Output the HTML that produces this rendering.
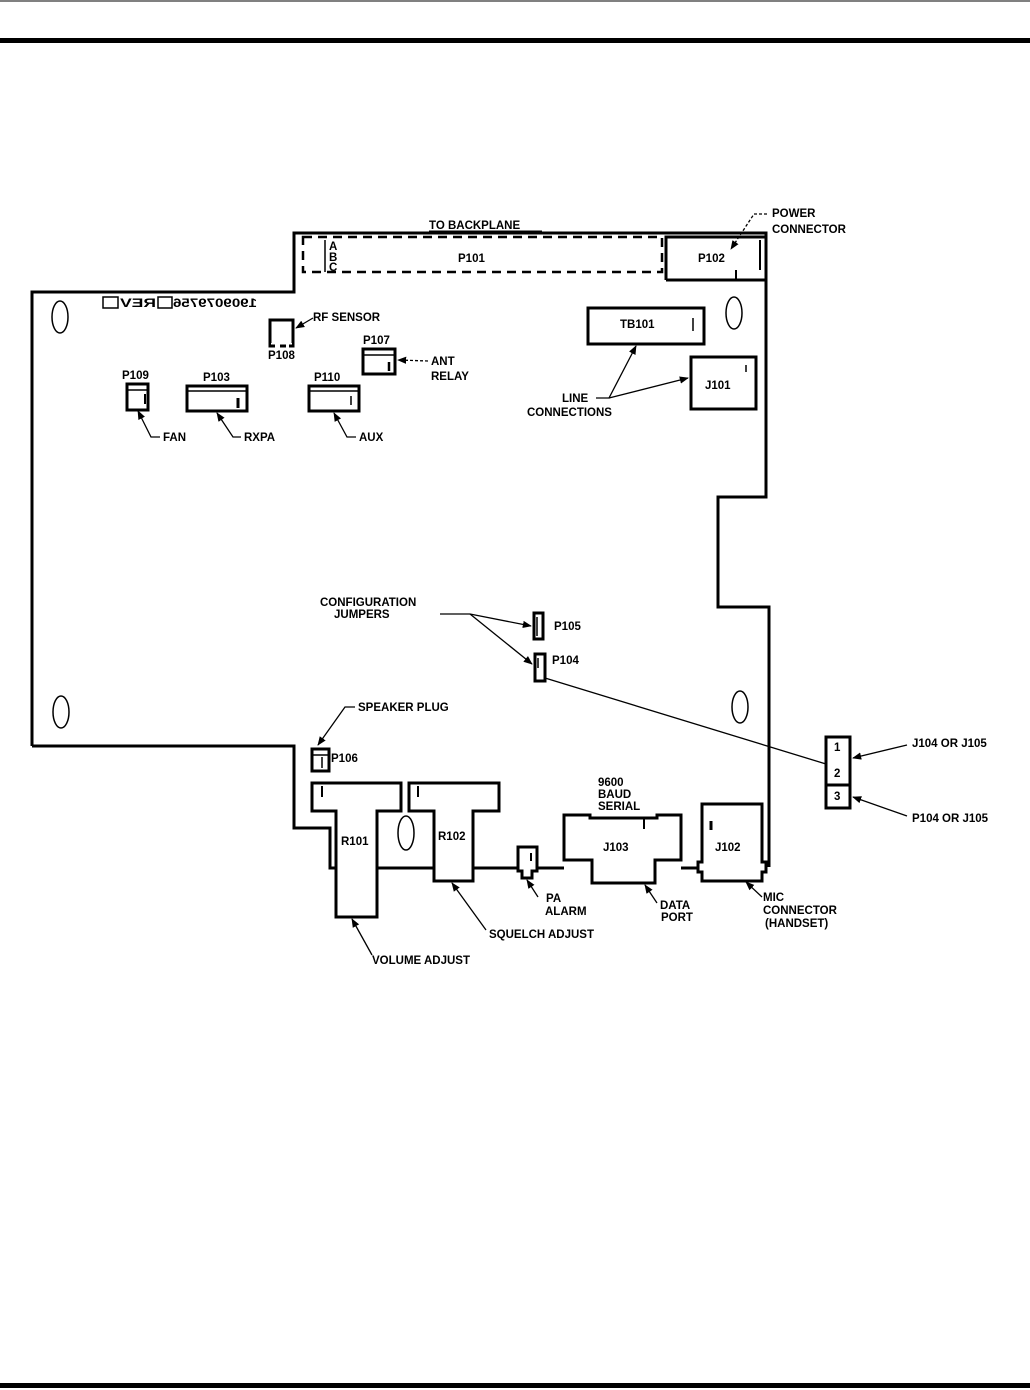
<!DOCTYPE html>
<html><head><meta charset="utf-8"><style>
html,body{margin:0;padding:0;background:#fff;}
svg{display:block;}
text{font-family:"Liberation Sans",sans-serif;font-weight:bold;font-size:11.5px;fill:#000;}
</style></head><body>
<svg width="1030" height="1390" viewBox="0 0 1030 1390" xmlns="http://www.w3.org/2000/svg">
<defs>
<marker id="a" viewBox="0 0 10 10" refX="9" refY="5" markerWidth="7" markerHeight="7" orient="auto"><path d="M0,1 L10,5 L0,9 z" fill="#000"/></marker>
</defs>
<line x1="0" y1="1" x2="1030" y2="1" stroke="#000" stroke-width="1"/>
<rect x="0" y="38" width="1030" height="5" fill="#000"/>
<rect x="0" y="1383" width="1030" height="5" fill="#000"/>

<g fill="none" stroke="#000" stroke-width="3">
<path d="M32,746 V292 H294 V233 H766 V497 H718 V607 H769 V867"/>
<path d="M32,746 H294 V828 H330 V868 H336"/>
<path d="M377,868 H434 M473,868 H518 M537,868 H564 M681,868 H702"/>
<path d="M312,783 H401 V811 H377 V917 H336 V811 H312 Z" fill="#fff"/>
<path d="M409,783 H499 V811 H473 V881 H434 V811 H409 Z" fill="#fff"/>
<path d="M518,847 H537 V871 H532 V878 H522 V871 H518 Z" fill="#fff"/>
<path d="M564,815 H590 V818 H657 V815 H681 V860 H655 V883 H592 V860 H564 Z" fill="#fff"/>
<path d="M702,804 H762 V862 H766 V872 H762 V881 H702 V872 H698 V862 H702 Z" fill="#fff"/>
<rect x="312" y="749" width="17" height="22"/>
<rect x="270" y="320" width="23" height="26"/>
<rect x="363" y="349" width="32" height="25"/>
<rect x="127" y="384" width="21" height="26"/>
<rect x="187" y="386" width="60" height="25"/>
<rect x="309" y="386" width="50" height="25"/>
<path d="M666,280 V237 H766 M666,280 H766"/>
<rect x="588" y="308" width="116" height="36"/>
<rect x="691" y="357" width="65" height="52"/>
<rect x="534" y="613" width="9" height="26"/>
<rect x="535" y="654" width="10" height="27"/>
<rect x="826" y="737" width="24" height="71"/>
<line x1="826" y1="785" x2="850" y2="785"/>
<path d="M303,237 H662 V272 H303 Z" stroke-dasharray="9,6" stroke-width="2.5"/>
</g>
<g stroke="#000" stroke-width="1.5" fill="none">
<line x1="363" y1="355" x2="395" y2="355"/>
<line x1="127" y1="390" x2="148" y2="390"/>
<line x1="187" y1="391" x2="247" y2="391"/>
<line x1="309" y1="391" x2="359" y2="391"/>
<line x1="312" y1="755" x2="329" y2="755"/>
<line x1="145" y1="394" x2="145" y2="404" stroke-width="2"/>
<line x1="238" y1="398" x2="238" y2="408" stroke-width="3"/>
<line x1="351" y1="396" x2="351" y2="405"/>
<line x1="389" y1="362" x2="389" y2="371" stroke-width="2.5"/>
<line x1="693" y1="318" x2="693" y2="331"/>
<line x1="746" y1="365" x2="746" y2="372"/>
<line x1="322" y1="757" x2="322" y2="768"/>
<line x1="322" y1="786" x2="322" y2="797" stroke-width="2"/>
<line x1="418" y1="786" x2="418" y2="797" stroke-width="2"/>
<line x1="531" y1="853" x2="531" y2="861" stroke-width="2"/>
<line x1="644" y1="818" x2="644" y2="829" stroke-width="2"/>
<line x1="711" y1="821" x2="711" y2="830" stroke-width="3"/>
<line x1="736" y1="270" x2="736" y2="280" stroke-width="2"/>
<line x1="760" y1="240" x2="760" y2="270" stroke-width="2"/>
<line x1="537" y1="617" x2="537" y2="636"/>
<line x1="538" y1="658" x2="538" y2="668"/>
<line x1="325" y1="240" x2="325" y2="272"/>
<ellipse cx="60" cy="317" rx="8" ry="16"/>
<ellipse cx="734" cy="313" rx="8" ry="16"/>
<ellipse cx="740" cy="707" rx="8" ry="16"/>
<ellipse cx="61" cy="712" rx="8" ry="16"/>
<ellipse cx="406" cy="833" rx="8" ry="17"/>
<rect x="103" y="297" width="15" height="11"/>
<rect x="158" y="297" width="14" height="11"/>
</g>
<rect x="271" y="343" width="21" height="5" fill="#fff"/>
<path d="M270,346 h5 M280,346 h6 M289,346 h4" stroke="#000" stroke-width="3"/>

<g stroke="#000" stroke-width="1.3" fill="none">
<path d="M313,318 L296,328" marker-end="url(#a)"/>
<path d="M428,361 L398,360" stroke-dasharray="3,2" marker-end="url(#a)"/>
<path d="M160,437 H151 L138,411" marker-end="url(#a)"/>
<path d="M241,437 H233 L217,413" marker-end="url(#a)"/>
<path d="M356,437 H347 L334,413" marker-end="url(#a)"/>
<path d="M767,214 H754 L731,249" stroke-dasharray="3,2" marker-end="url(#a)"/>
<path d="M596,398 H609 L636,346" marker-end="url(#a)"/>
<path d="M609,398 L688,378" marker-end="url(#a)"/>
<path d="M440,614 H470 L531,626" marker-end="url(#a)"/>
<path d="M470,614 L532,664" marker-end="url(#a)"/>
<path d="M545,678 L826,764"/>
<path d="M355,707 H345 L318,745" marker-end="url(#a)"/>
<path d="M907,745 L853,758" marker-end="url(#a)"/>
<path d="M907,816 L853,797" marker-end="url(#a)"/>
<path d="M372,955 L352,919" marker-end="url(#a)"/>
<path d="M486,930 L452,883" marker-end="url(#a)"/>
<path d="M538,897 L527,880" marker-end="url(#a)"/>
<path d="M657,903 L645,885" marker-end="url(#a)"/>
<path d="M762,897 L746,882" marker-end="url(#a)"/>
</g>

<text x="429" y="229">TO BACKPLANE</text>
<line x1="429" y1="231" x2="542" y2="231" stroke="#000" stroke-width="1"/>
<text x="329" y="250" font-size="9">A</text>
<text x="329" y="261" font-size="9">B</text>
<text x="329" y="271" font-size="9">C</text>
<text x="458" y="262">P101</text>
<text x="698" y="262">P102</text>
<text x="772" y="217">POWER</text>
<text x="772" y="233">CONNECTOR</text>
<text x="620" y="328">TB101</text>
<text x="705" y="389">J101</text>
<text x="562" y="402">LINE</text>
<text x="527" y="416">CONNECTIONS</text>
<text transform="translate(257,307) scale(-1,1)" font-size="12" font-weight="normal" textLength="84" lengthAdjust="spacingAndGlyphs">1909079756</text>
<text transform="translate(156,307) scale(-1,1)" font-size="12" font-weight="normal" textLength="36" lengthAdjust="spacingAndGlyphs">REV</text>
<text x="313" y="321">RF SENSOR</text>
<text x="268" y="359">P108</text>
<text x="363" y="344">P107</text>
<text x="431" y="365">ANT</text>
<text x="431" y="380">RELAY</text>
<text x="122" y="379">P109</text>
<text x="203" y="381">P103</text>
<text x="314" y="381">P110</text>
<text x="163" y="441">FAN</text>
<text x="244" y="441">RXPA</text>
<text x="359" y="441">AUX</text>
<text x="320" y="606">CONFIGURATION</text>
<text x="334" y="618">JUMPERS</text>
<text x="554" y="630">P105</text>
<text x="552" y="664">P104</text>
<text x="358" y="711">SPEAKER PLUG</text>
<text x="331" y="762">P106</text>
<text x="834" y="751">1</text>
<text x="834" y="777">2</text>
<text x="834" y="800">3</text>
<text x="912" y="747">J104 OR J105</text>
<text x="912" y="822">P104 OR J105</text>
<text x="598" y="786">9600</text>
<text x="598" y="798">BAUD</text>
<text x="598" y="810">SERIAL</text>
<text x="341" y="845">R101</text>
<text x="438" y="840">R102</text>
<text x="603" y="851">J103</text>
<text x="715" y="851">J102</text>
<text x="546" y="902">PA</text>
<text x="545" y="915">ALARM</text>
<text x="660" y="909">DATA</text>
<text x="661" y="921">PORT</text>
<text x="763" y="901">MIC</text>
<text x="763" y="914">CONNECTOR</text>
<text x="765" y="927">(HANDSET)</text>
<text x="489" y="938">SQUELCH ADJUST</text>
<text x="372" y="964">VOLUME ADJUST</text>
</svg>
</body></html>
